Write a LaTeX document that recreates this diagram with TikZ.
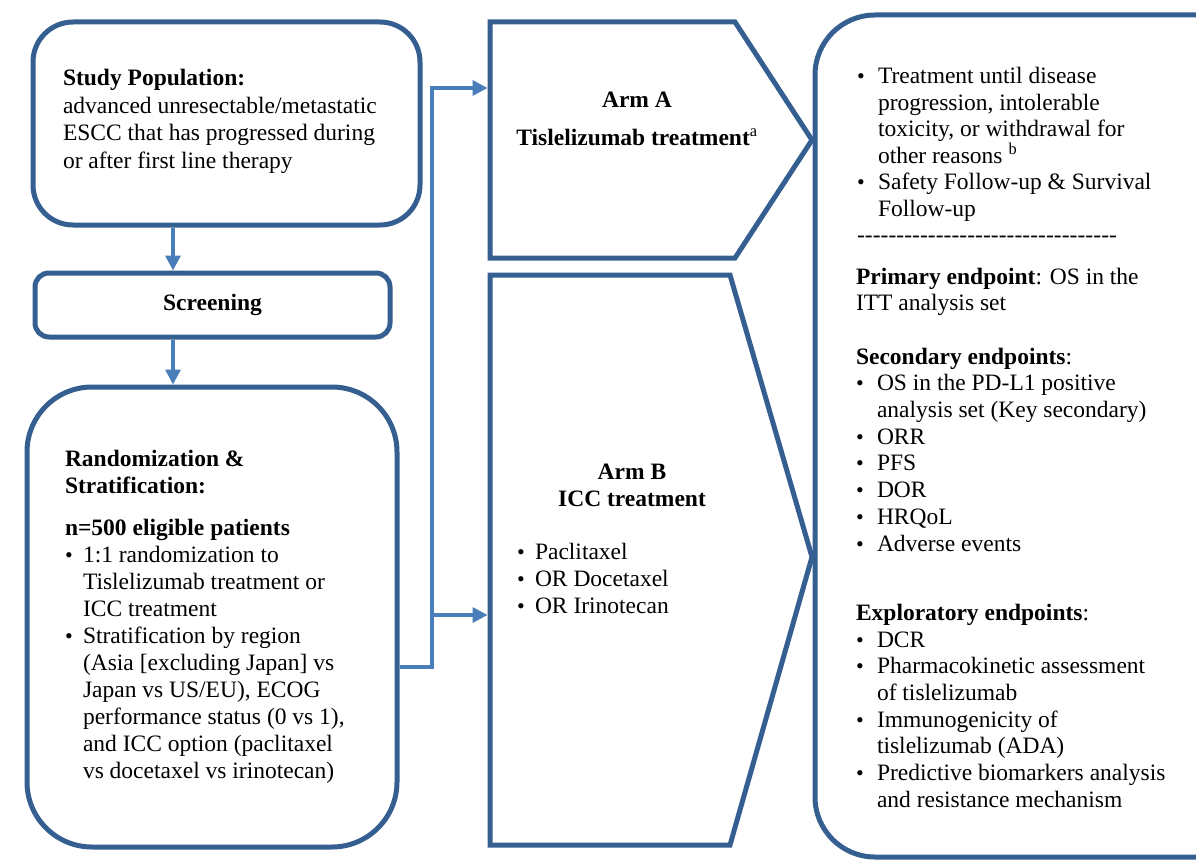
\documentclass[tikz,border=0pt]{standalone}
\usepackage{fontspec}
\setmainfont{Liberation Serif}
\usetikzlibrary{arrows.meta}
\definecolor{boxblue}{RGB}{54,95,145}
\definecolor{arrowblue}{RGB}{74,126,187}
\newcommand\tbox[3]{\parbox[t]{520pt}{\fontsize{23.5}{#2}\selectfont\raggedright\parindent=0pt #3}}
\newlength\bulw
\setlength\bulw{18pt}
\newcommand\bl{\makebox[\bulw][l]{\fontsize{22}{22}\selectfont\textbullet}}
\newcommand\ind{\hspace*{\bulw}}
\newcommand\dashrule{\mbox{}\makebox[260pt][l]{\xleaders\hbox{-}\hfill}}
\tikzset{
  frame/.style={draw=boxblue, line width=5pt, fill=white, line join=miter},
  conn/.style={draw=arrowblue, line width=3.4pt},
  arr/.style={conn, -{Triangle[length=15pt,width=15pt]}},
  txt/.style={anchor=base west, inner sep=0pt, outer sep=0pt},
}
\begin{document}
\begin{tikzpicture}[x=1pt,y=-1pt]
\useasboundingbox (0,0) rectangle (1196,861);
\clip (0,0) rectangle (1196,861);
\fill[white] (0,0) rectangle (1196,861);

% boxes
\node[frame, rounded corners=40pt, minimum width=387pt, minimum height=203pt] (study) at (226.5,123.5) {};
\node[frame, rounded corners=14pt, minimum width=355pt, minimum height=64pt,
      font=\fontsize{23.5}{27}\selectfont\bfseries] (screen) at (212.5,305) {Screening};
\node[frame, rounded corners=65pt, minimum width=370pt, minimum height=460pt] (rand) at (212,617) {};
\node[frame, rounded corners=60pt, minimum width=445pt, minimum height=842pt] (out) at (1037.5,436) {};
\draw[frame] (490,22) -- (735,22) -- (812,140) -- (735,258) -- (490,258) -- cycle;
\draw[frame] (490,275) -- (730,275) -- (812,557) -- (730,845) -- (490,845) -- cycle;

% connectors
\coordinate (ax) at (173,0);
\coordinate (j1) at (432,667);
\coordinate (armAin) at (487.5,88);
\coordinate (armBin) at (487.5,615);
\draw[arr] (study.south -| ax) -- (screen.north -| ax);
\draw[arr] (screen.south -| ax) -- (rand.north -| ax);
\draw[arr] (rand.east |- j1) -- (j1) -- (j1 |- armAin) -- (armAin);
\draw[arr] (j1 |- armBin) -- (armBin);

% texts
\node[txt] (studytext) at (63,86) {\tbox{}{27.5}{\textbf{Study Population:}\\
advanced unresectable/metastatic\\
ESCC that has progressed during\\
or after first line therapy}};

\node[txt] (randtext) at (65,466) {\tbox{}{27}{\textbf{Randomization \&}\\
\textbf{Stratification:}\\[15pt]
\textbf{n=500 eligible patients}\\
\bl 1:1 randomization to\\
\ind Tislelizumab treatment or\\
\ind ICC treatment\\
\bl Stratification by region\\
\ind (Asia [excluding Japan] vs\\
\ind Japan vs US/EU), ECOG\\
\ind performance status (0 vs 1),\\
\ind and ICC option (paclitaxel\\
\ind vs docetaxel vs irinotecan)}};

\node[txt, anchor=base] (armAtext) at (637,108) {\parbox[t]{320pt}{\fontsize{23.5}{27}\selectfont\centering\bfseries
Arm A\\[11pt]
Tislelizumab treatment\textsuperscript{\normalfont a}}};

\node[txt, anchor=base] (armBhead) at (632,479) {\parbox[t]{320pt}{\fontsize{23.5}{27}\selectfont\centering\bfseries
Arm B\\
ICC treatment}};

\node[txt] (armBlist) at (517,559) {\tbox{}{27}{\bl Paclitaxel\\
\bl OR Docetaxel\\
\bl OR Irinotecan}};

\setlength\bulw{21pt}
\node[txt] (outtop) at (857,84) {\tbox{}{26.5}{\bl Treatment until disease\\
\ind progression, intolerable\\
\ind toxicity, or withdrawal for\\
\ind other reasons \textsuperscript{b}\\
\bl Safety Follow-up \& Survival\\
\ind Follow-up\\
\dashrule}};

\node[txt] (outend) at (856,284) {\tbox{}{26.7}{\textbf{Primary endpoint}: OS in the\\
ITT analysis set\\
\mbox{}\\
\textbf{Secondary endpoints}:\\
\bl OS in the PD-L1 positive\\
\ind analysis set (Key secondary)\\
\bl ORR\\
\bl PFS\\
\bl DOR\\
\bl HRQoL\\
\bl Adverse events\\[8pt]
\mbox{}\\[8pt]
\textbf{Exploratory endpoints}:\\
\bl DCR\\
\bl Pharmacokinetic assessment\\
\ind of tislelizumab\\
\bl Immunogenicity of\\
\ind tislelizumab (ADA)\\
\bl Predictive biomarkers analysis\\
\ind and resistance mechanism}};
\end{tikzpicture}
\end{document}
